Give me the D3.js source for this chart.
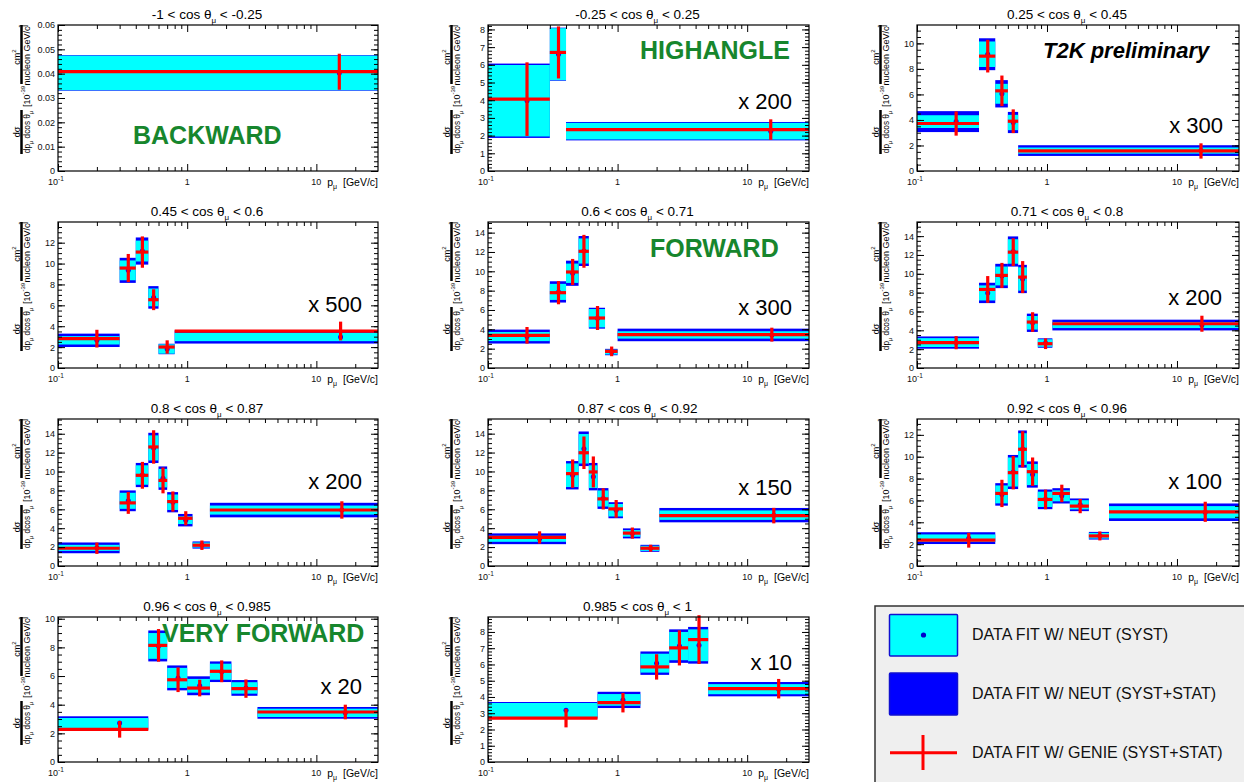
<!DOCTYPE html>
<html>
<head>
<meta charset="utf-8">
<title>CC0pi cross section in cos theta slices</title>
<script src="https://cdn.jsdelivr.net/npm/d3@7"></script>
<style>
  body { margin: 0; background: #fff; }
  svg text { font-family: "Liberation Sans", Arial, Helvetica, sans-serif; }
</style>
</head>
<body>
<svg id="chart" width="1244" height="782"></svg>
<script>
// ---- data, one entry per cos(theta_mu) slice ----
const cosLow  = ["-1", "-0.25", "0.25", "0.45", "0.6", "0.71", "0.8", "0.87", "0.92", "0.96", "0.985"];
const cosHigh = ["-0.25", "0.25", "0.45", "0.6", "0.71", "0.8", "0.87", "0.92", "0.96", "0.985", "1"];
const scaleText  = ["", "x 200", "x 300", "x 500", "x 300", "x 200", "x 200", "x 150", "x 100", "x 20", "x 10"];
const regionText = ["BACKWARD", "HIGHANGLE", "", "", "FORWARD", "", "", "", "", "VERY FORWARD", ""];
const yMax  = [0.06, 8.25, 11.44, 13.98, 15.1, 15.5, 15.56, 15.55, 13.45, 10.12, 8.92];
const yStep = [0.01, 1, 2, 2, 2, 2, 2, 2, 2, 2, 1];

// momentum bin edges [GeV/c]
const binEdges = [
  [0.1, 30],
  [0.1, 0.3, 0.4, 30],
  [0.1, 0.3, 0.4, 0.5, 0.6, 30],
  [0.1, 0.3, 0.4, 0.5, 0.6, 0.8, 30],
  [0.1, 0.3, 0.4, 0.5, 0.6, 0.8, 1.0, 30],
  [0.1, 0.3, 0.4, 0.5, 0.6, 0.7, 0.85, 1.1, 30],
  [0.1, 0.3, 0.4, 0.5, 0.6, 0.7, 0.85, 1.1, 1.5, 30],
  [0.1, 0.4, 0.5, 0.6, 0.7, 0.85, 1.1, 1.5, 2.1, 30],
  [0.1, 0.4, 0.5, 0.6, 0.7, 0.85, 1.1, 1.5, 2.1, 3.0, 30],
  [0.1, 0.5, 0.7, 1.0, 1.5, 2.2, 3.5, 30],
  [0.1, 0.7, 1.5, 2.5, 3.5, 5.0, 30]
];
// data fit w/ NEUT: central value, syst error, syst+stat error
const neutValue = [
  [0.0403],
  [3.97, 6.6, 2.25],
  [3.87, 9.15, 6.05, 3.8, 1.6],
  [2.65, 9.35, 11.2, 6.76, 1.82, 2.97],
  [3.25, 7.87, 9.8, 12.1, 5.15, 1.65, 3.42],
  [2.7, 7.97, 9.77, 12.37, 9.45, 4.8, 2.65, 4.56],
  [1.92, 6.9, 9.63, 12.5, 9.3, 6.75, 4.85, 2.22, 5.92],
  [2.88, 9.6, 12.4, 9.45, 7.14, 5.9, 3.45, 1.87, 5.38],
  [2.55, 6.55, 8.6, 10.7, 8.37, 6.1, 6.42, 5.6, 2.77, 4.92],
  [2.72, 8.1, 5.87, 5.32, 6.3, 5.17, 3.43],
  [3.18, 3.82, 6.08, 7.13, 7.18, 4.48]
];
const neutSyst = [
  [0.0071],
  [2.02, 1.47, 0.47],
  [0.5, 1.0, 0.78, 0.6, 0.24],
  [0.4, 0.95, 1.0, 0.85, 0.45, 0.4],
  [0.47, 0.83, 1.0, 1.3, 0.95, 0.25, 0.38],
  [0.47, 0.8, 1.0, 1.3, 1.24, 0.72, 0.4, 0.32],
  [0.32, 0.85, 1.03, 1.33, 0.98, 0.82, 0.41, 0.27, 0.48],
  [0.32, 1.25, 1.56, 1.2, 0.85, 0.66, 0.35, 0.27, 0.5],
  [0.34, 0.82, 1.33, 1.45, 0.97, 0.7, 0.5, 0.42, 0.26, 0.56],
  [0.35, 0.9, 0.7, 0.48, 0.56, 0.4, 0.29],
  [0.45, 0.36, 0.58, 0.87, 0.98, 0.31]
];
const neutTotal = [
  [0.0073],
  [2.1, 1.5, 0.52],
  [0.82, 1.25, 1.07, 0.83, 0.42],
  [0.64, 1.2, 1.3, 1.08, 0.5, 0.63],
  [0.72, 1.1, 1.3, 1.55, 1.08, 0.33, 0.65],
  [0.65, 1.08, 1.29, 1.6, 1.5, 0.97, 0.5, 0.57],
  [0.57, 1.1, 1.28, 1.6, 1.24, 1.07, 0.66, 0.38, 0.77],
  [0.57, 1.5, 1.83, 1.45, 1.1, 0.85, 0.53, 0.37, 0.76],
  [0.54, 1.03, 1.56, 1.7, 1.2, 0.9, 0.7, 0.58, 0.35, 0.8],
  [0.47, 1.08, 0.87, 0.66, 0.72, 0.55, 0.41],
  [0.51, 0.5, 0.72, 1.03, 1.13, 0.44]
];
// data fit w/ GENIE: value and syst+stat error
const genieValue = [
  [0.0408],
  [4.06, 6.7, 2.34],
  [3.72, 9.0, 6.28, 3.9, 1.57],
  [2.81, 9.57, 11.1, 6.54, 2.01, 3.54],
  [3.38, 7.79, 9.93, 12.07, 5.17, 1.72, 3.45],
  [2.69, 8.34, 9.83, 12.3, 9.65, 4.88, 2.58, 4.7],
  [1.88, 6.68, 9.6, 12.6, 9.06, 6.82, 5.05, 2.2, 5.93],
  [3.02, 9.77, 11.98, 9.95, 7.1, 6.04, 3.48, 1.88, 5.33],
  [2.36, 6.64, 8.54, 10.68, 8.63, 6.09, 6.64, 5.48, 2.75, 4.96],
  [2.28, 8.14, 5.74, 5.16, 6.33, 5.12, 3.49],
  [2.7, 3.65, 5.85, 7.02, 7.53, 4.51]
];
const genieErr = [
  [0.0074],
  [2.08, 1.47, 0.58],
  [0.95, 1.28, 1.2, 0.93, 0.6],
  [0.85, 1.35, 1.5, 1.0, 0.64, 0.9],
  [0.86, 1.2, 1.35, 1.7, 1.24, 0.5, 0.72],
  [0.7, 1.42, 1.33, 1.47, 1.7, 1.04, 0.57, 0.85],
  [0.6, 1.16, 1.42, 1.77, 1.37, 1.07, 0.75, 0.5, 0.92],
  [0.65, 1.5, 1.72, 1.64, 1.12, 0.94, 0.59, 0.37, 0.82],
  [0.68, 1.25, 1.53, 1.65, 1.3, 0.9, 0.8, 0.65, 0.41, 0.92],
  [0.58, 1.14, 0.86, 0.58, 0.76, 0.64, 0.51],
  [0.57, 0.6, 0.78, 1.08, 1.5, 0.6]
];
const legendText = ["DATA FIT W/ NEUT (SYST)", "DATA FIT W/ NEUT (SYST+STAT)", "DATA FIT W/ GENIE (SYST+STAT)"];

// ---- layout ----
const colLeft = [58, 488, 917], colRight = [378, 809, 1239];
const rowTop = [25, 222, 419, 617], rowBottom = [171, 368, 566, 762];
// right edge / baseline of the "x N" labels
const scalePos = [null, [792, 109], [1223, 133], [362, 312], [792, 315], [1222, 305],
                  [362, 489], [792, 495], [1222, 489], [362, 694], [792, 670]];
// left edge / baseline of the green region labels
const regionPos = [[133, 144], [640, 59], null, null, [650, 257], null, null, null, null, [162, 642], null];

const CYAN = "#00ffff", BLUE = "#0000ff", RED = "#ff0000", GREEN = "#17862d";

const svg = d3.select("#chart");

function styleAxis(sel) {
  sel.select(".domain").remove();
  sel.selectAll(".tick line").attr("stroke", "#000").attr("stroke-width", 1);
  sel.selectAll(".tick text").attr("font-size", 9).attr("fill", "#111");
}

function yTitle(L, T, B) {
  const g = svg.append("g").attr("font-size", 9).attr("fill", "#000");
  const rot = (x, y) => `translate(${x},${y}) rotate(-90)`;
  // d sigma / (dp dcos theta)
  g.append("text").attr("transform", rot(L - 38.5, B - 39)).attr("text-anchor", "middle").text("dσ");
  g.append("line").attr("x1", L - 36.5).attr("x2", L - 36.5).attr("y1", B - 17).attr("y2", B - 61)
    .attr("stroke", "#000").attr("stroke-width", 2.5);
  const den = g.append("text").attr("transform", rot(L - 28.5, B - 39)).attr("text-anchor", "middle")
    .attr("font-size", 8.3);
  den.append("tspan").text("dp");
  den.append("tspan").attr("font-size", 5.5).attr("dy", 3).text("μ");
  den.append("tspan").attr("dy", -3).text(" dcos θ");
  den.append("tspan").attr("font-size", 5.5).attr("dy", 3).text("μ");
  // [10^-39
  const pw = g.append("text").attr("transform", rot(L - 28.5, B - 64)).attr("text-anchor", "start");
  pw.append("tspan").text("[10");
  pw.append("tspan").attr("font-size", 6).attr("dy", -5).text("-39");
  // cm2 / nucleon GeV/c ]
  g.append("line").attr("x1", L - 36.5).attr("x2", L - 36.5).attr("y1", T + 59).attr("y2", T)
    .attr("stroke", "#000").attr("stroke-width", 2.5);
  const num = g.append("text").attr("transform", rot(L - 38.5, T + 32)).attr("text-anchor", "middle");
  num.append("tspan").text("cm");
  num.append("tspan").attr("font-size", 6).attr("dy", -4).text("2");
  g.append("text").attr("transform", rot(L - 28.5, T + 31)).attr("text-anchor", "middle").text("nucleon GeV/c");
  g.append("text").attr("transform", rot(L - 32, T + 1)).attr("text-anchor", "middle").text("]");
}

cosLow.forEach((lo, i) => {
  const col = i % 3, row = Math.floor(i / 3);
  const L = colLeft[col], R = colRight[col], T = rowTop[row], B = rowBottom[row];
  const x = d3.scaleLog().domain([0.1, 30]).range([L, R]);
  const y = d3.scaleLinear().domain([0, yMax[i]]).range([B, T]);
  const g = svg.append("g");

  // title
  const t = g.append("text").attr("x", (L + R) / 2 - 11).attr("y", T - 6)
    .attr("text-anchor", "middle").attr("font-size", 13.5);
  t.append("tspan").text(`${lo} < cos θ`);
  t.append("tspan").attr("font-size", 8).attr("dy", 4).text("μ");
  t.append("tspan").attr("dy", -4).text(` < ${cosHigh[i]}`);

  // bins
  const edges = binEdges[i];
  const bins = neutValue[i].map((v, j) => ({
    lo: edges[j], hi: edges[j + 1], mid: (edges[j] + edges[j + 1]) / 2,
    v, syst: neutSyst[i][j], tot: neutTotal[i][j], gv: genieValue[i][j], ge: genieErr[i][j]
  }));
  const bg = g.append("g");
  bg.selectAll("rect.tot").data(bins).enter().append("rect").attr("class", "tot")
    .attr("x", d => x(d.lo)).attr("width", d => x(d.hi) - x(d.lo))
    .attr("y", d => y(d.v + d.tot)).attr("height", d => y(d.v - d.tot) - y(d.v + d.tot))
    .attr("fill", BLUE);
  bg.selectAll("rect.syst").data(bins).enter().append("rect").attr("class", "syst")
    .attr("x", d => x(d.lo)).attr("width", d => x(d.hi) - x(d.lo))
    .attr("y", d => y(d.v + d.syst)).attr("height", d => y(d.v - d.syst) - y(d.v + d.syst))
    .attr("fill", CYAN);
  bg.selectAll("circle").data(bins).enter().append("circle")
    .attr("cx", d => x(d.mid)).attr("cy", d => y(d.v)).attr("r", 2.5).attr("fill", BLUE);
  bg.selectAll("line.h").data(bins).enter().append("line").attr("class", "h")
    .attr("x1", d => x(d.lo)).attr("x2", d => x(d.hi)).attr("y1", d => y(d.gv)).attr("y2", d => y(d.gv))
    .attr("stroke", RED).attr("stroke-width", 3.2);
  bg.selectAll("line.v").data(bins).enter().append("line").attr("class", "v")
    .attr("x1", d => x(d.mid)).attr("x2", d => x(d.mid)).attr("y1", d => y(d.gv - d.ge)).attr("y2", d => y(d.gv + d.ge))
    .attr("stroke", RED).attr("stroke-width", 3.2);

  // axes, ROOT style ticks on all four sides
  const step = yStep[i];
  const majors = d3.range(Math.floor(yMax[i] / step + 1e-6) + 1).map(k => +(k * step).toFixed(4));
  const mStep = step === 2 ? 0.5 : step / 5;
  const minors = d3.range(Math.floor(yMax[i] / mStep + 1e-6) + 1).map(k => +(k * mStep).toFixed(4));
  const fmt = step < 1 ? (v => v === 0 ? "0" : d3.format(".2f")(v)) : d3.format("d");
  g.append("g").attr("transform", `translate(${L},0)`)
    .call(d3.axisLeft(y).tickValues(majors).tickSizeInner(-7).tickSizeOuter(0).tickPadding(3).tickFormat(fmt)).call(styleAxis);
  g.append("g").attr("transform", `translate(${L},0)`)
    .call(d3.axisLeft(y).tickValues(minors).tickSize(-4).tickFormat("")).call(styleAxis);
  g.append("g").attr("transform", `translate(${R},0)`)
    .call(d3.axisRight(y).tickValues(majors).tickSize(-7).tickFormat("")).call(styleAxis);
  g.append("g").attr("transform", `translate(${R},0)`)
    .call(d3.axisRight(y).tickValues(minors).tickSize(-4).tickFormat("")).call(styleAxis);

  const xMaj = [0.1, 1, 10];
  const xMin = [0.2, 0.3, 0.4, 0.5, 0.6, 0.7, 0.8, 0.9, 2, 3, 4, 5, 6, 7, 8, 9, 20];
  g.append("g").attr("transform", `translate(0,${B})`)
    .call(d3.axisBottom(x).tickValues(xMaj).tickSize(-7).tickFormat("")).call(styleAxis);
  g.append("g").attr("transform", `translate(0,${B})`)
    .call(d3.axisBottom(x).tickValues(xMin).tickSize(-4).tickFormat("")).call(styleAxis);
  g.append("g").attr("transform", `translate(0,${T})`)
    .call(d3.axisTop(x).tickValues(xMaj).tickSize(-7).tickFormat("")).call(styleAxis);
  g.append("g").attr("transform", `translate(0,${T})`)
    .call(d3.axisTop(x).tickValues(xMin).tickSize(-4).tickFormat("")).call(styleAxis);

  g.append("rect").attr("x", L).attr("y", T).attr("width", R - L).attr("height", B - T)
    .attr("fill", "none").attr("stroke", "#000").attr("stroke-width", 1.2);

  // x tick labels
  const xl = g.append("g").attr("font-size", 9).attr("fill", "#111");
  const l0 = xl.append("text").attr("x", x(0.1) - 2).attr("y", B + 13.5).attr("text-anchor", "middle");
  l0.append("tspan").text("10");
  l0.append("tspan").attr("font-size", 6.5).attr("dy", -4).text("-1");
  xl.append("text").attr("x", x(1)).attr("y", B + 13.5).attr("text-anchor", "middle").text("1");
  xl.append("text").attr("x", x(10)).attr("y", B + 13.5).attr("text-anchor", "middle").text("10");

  const xt = g.append("text").attr("x", R).attr("y", B + 14.5).attr("text-anchor", "end")
    .attr("font-size", 10.5).style("white-space", "pre");
  xt.append("tspan").text("p");
  xt.append("tspan").attr("font-size", 7).attr("dy", 3.5).text("μ");
  xt.append("tspan").attr("dy", -3.5).text("  [GeV/c]");

  yTitle(L, T, B);

  // annotations
  if (scaleText[i]) {
    g.append("text").attr("x", scalePos[i][0]).attr("y", scalePos[i][1]).attr("text-anchor", "end")
      .attr("font-size", 22).attr("fill", "#000").text(scaleText[i]);
  }
  if (regionText[i]) {
    g.append("text").attr("x", regionPos[i][0]).attr("y", regionPos[i][1])
      .attr("font-size", 25).attr("font-weight", "bold").attr("fill", GREEN).text(regionText[i]);
  }
});

svg.append("text").attr("x", 1043).attr("y", 58).attr("font-size", 22)
  .attr("font-weight", "bold").attr("font-style", "italic").attr("fill", "#000").text("T2K preliminary");

// ---- legend ----
const lg = svg.append("g");
lg.append("rect").attr("x", 875).attr("y", 606).attr("width", 420).attr("height", 220)
  .attr("fill", "#efefef").attr("stroke", "#333").attr("stroke-width", 1.5);
lg.append("rect").attr("x", 889.5).attr("y", 614.5).attr("width", 68).attr("height", 41.5)
  .attr("fill", CYAN).attr("stroke", "#1010d0").attr("stroke-width", 1.5).attr("rx", 1);
lg.append("circle").attr("cx", 923.5).attr("cy", 635).attr("r", 2.6).attr("fill", "#0000cc");
lg.append("rect").attr("x", 889.5).attr("y", 673).attr("width", 68).attr("height", 42)
  .attr("fill", BLUE).attr("stroke", "#1010d0").attr("stroke-width", 1.5).attr("rx", 1);
lg.append("line").attr("x1", 890).attr("x2", 957).attr("y1", 752.7).attr("y2", 752.7)
  .attr("stroke", RED).attr("stroke-width", 3);
lg.append("line").attr("x1", 923).attr("x2", 923).attr("y1", 735).attr("y2", 770)
  .attr("stroke", RED).attr("stroke-width", 3);
lg.selectAll("text.leg").data(legendText).enter().append("text").attr("class", "leg")
  .attr("x", 972).attr("y", (d, k) => [640, 698.5, 758][k])
  .attr("font-size", 16).attr("fill", "#111").text(d => d);
</script>
</body>
</html>
